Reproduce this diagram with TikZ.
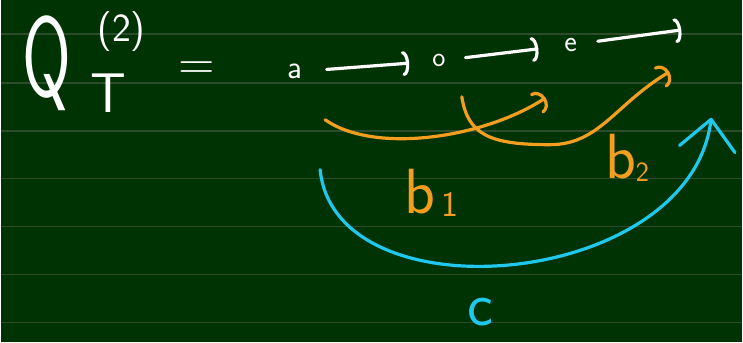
\documentclass[tikz,border=0pt]{standalone}
\usetikzlibrary{arrows.meta}

\definecolor{board}{RGB}{0,51,4}
\definecolor{ruling}{RGB}{44,76,44}
\definecolor{chalkorange}{RGB}{244,158,32}
\definecolor{chalkcyan}{RGB}{32,200,238}

\begin{document}
\begin{tikzpicture}[
  x=1pt, y=-1pt,
  chalk/.style={line width=3.2pt, line cap=round, line join=round},
  wline/.style={chalk, white, -{Arc Barb[length=6pt,width=25pt,round]}},
  oline/.style={chalk, chalkorange, -{Arc Barb[length=10pt,width=24pt,round]}},
  cline/.style={chalk, chalkcyan, -{Straight Barb[length=30pt,width=56pt,round]}},
  glyph/.style={inner sep=0pt, font=\sffamily},
  wlbl/.style={glyph, text=white},
  olbl/.style={glyph, text=chalkorange},
]

% ===== board =====================================================================
\fill[board] (0,0) rectangle (743,343);
\foreach \yy in {34,83,131,179,227,275,323}
  \draw[ruling, line width=1.6pt] (0,\yy) -- (743,\yy);
\useasboundingbox (0,0) rectangle (743,343);

% ===== left side: Q_T^(2) = ======================================================
\node[wlbl, font=\sffamily\fontsize{114}{118}\selectfont] (Q) at (46,63) {\scalebox{0.62}[1]{Q}};
\node[wlbl, font=\sffamily\fontsize{40}{44}\selectfont] (sup) at (121,32) {(2)};
\node[wlbl, font=\sffamily\fontsize{56}{60}\selectfont] (sub) at (108,93) {T};
\node[wlbl, font=\sffamily\fontsize{50}{54}\selectfont] (eq) at (196,71) {=};

% ===== the chain a -> o -> e ====================================================
\node[wlbl, font=\sffamily\fontsize{33}{36}\selectfont] (a) at (295,72) {a};
\node[wlbl, font=\sffamily\fontsize{28}{30}\selectfont] (o) at (439,61) {o};
\node[wlbl, font=\sffamily\fontsize{30}{32}\selectfont] (e) at (571,45) {e};
\coordinate (eend) at (682,30);

\draw[wline, shorten <=24pt, shorten >=23pt] (a) -- (o);
\draw[wline, shorten <=20pt, shorten >=26pt] (o) -- (e);
\draw[wline, shorten <=21pt] (e) -- (eend);

% ===== orange paths b1, b2 ======================================================
\coordinate (b1s) at (325,120);
\coordinate (b1e) at (546,98);
\coordinate (b2s) at (462,97);
\coordinate (b2e) at (670,72);

\draw[oline] (b1s) .. controls (375,155) and (485,138) .. (b1e);
\draw[oline] (b2s) .. controls (468,135) and (490,145) .. (550,145)
  .. controls (600,145) and (615,105) .. (b2e);

\node[olbl, font=\sffamily\fontsize{64}{68}\selectfont] (b1) at (420,192) {b};
\node[olbl, font=\sffamily\fontsize{36}{40}\selectfont] (b1n) at (450,205) {1};
\node[olbl, font=\sffamily\fontsize{64}{68}\selectfont] (b2) at (621,157) {b};
\node[olbl, font=\sffamily\fontsize{28}{30}\selectfont] (b2n) at (643,172) {2};

% ===== cyan path c ==============================================================
\coordinate (cs) at (320,170);
\coordinate (ce) at (712,118);

\draw[cline] (cs) .. controls (335,320) and (690,290) .. (ce);

\node[glyph, text=chalkcyan, font=\sffamily\fontsize{62}{66}\selectfont] (c) at (481,313) {c};

\end{tikzpicture}
\end{document}
